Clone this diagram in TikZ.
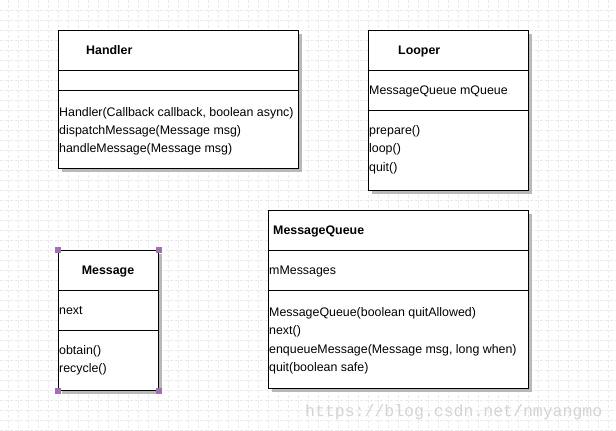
\documentclass[tikz,border=0pt]{standalone}
\usepackage{fontspec}
\setmainfont{Liberation Sans}
\newfontfamily\wmfont{Liberation Mono}
\usetikzlibrary{shadows}
\definecolor{gridc}{RGB}{234,234,234}
\definecolor{shadc}{RGB}{185,185,185}
\definecolor{handc}{RGB}{160,112,176}
\definecolor{wmc}{RGB}{212,212,212}
\begin{document}
\begin{tikzpicture}[x=1pt,y=-1pt,
  font=\fontsize{12.4}{15}\selectfont,
  gridline/.style={draw=gridc,line width=0.8pt,dash pattern=on 3pt off 2pt},
  classbox/.style={draw=black,line width=1pt,fill=white,anchor=north west,inner sep=0pt,
     drop shadow={shadow xshift=3pt,shadow yshift=-3pt,fill=shadc,opacity=1}},
  divider/.style={draw=black,line width=1pt},
  txt/.style={anchor=base west,inner sep=0pt},
  ttl/.style={anchor=base west,inner sep=0pt,font=\fontsize{12.4}{15}\selectfont\bfseries},
  handle/.style={fill=handc,draw=none,minimum size=6pt,inner sep=0pt}]
\useasboundingbox (0,0) rectangle (616,431);
\fill[white] (0,0) rectangle (616,431);
\foreach \x in {8,18,...,608} \draw[gridline] (\x,0) -- (\x,431);
\foreach \y in {10,20,...,430} \draw[gridline] (0,\y) -- (616,\y);

% Handler
\node[classbox,minimum width=240pt,minimum height=138pt] (handler) at (58,30) {};
\draw[divider] ([yshift=-40pt]handler.north west) -- ([yshift=-40pt]handler.north east);
\draw[divider] ([yshift=-60pt]handler.north west) -- ([yshift=-60pt]handler.north east);
\node[ttl] (handlerT) at (86,54) {Handler};
\node[txt] (h1) at (59,116) {Handler(Callback callback, boolean async)};
\node[txt] (h2) at (59,134) {dispatchMessage(Message msg)};
\node[txt] (h3) at (59,152) {handleMessage(Message msg)};

% Looper
\node[classbox,minimum width=160pt,minimum height=160pt] (looper) at (368,30) {};
\draw[divider] ([yshift=-40pt]looper.north west) -- ([yshift=-40pt]looper.north east);
\draw[divider] ([yshift=-80pt]looper.north west) -- ([yshift=-80pt]looper.north east);
\node[ttl] (looperT) at (398,54) {Looper};
\node[txt] (l0) at (369,94) {MessageQueue mQueue};
\node[txt] (l1) at (369,134) {prepare()};
\node[txt] (l2) at (369,152) {loop()};
\node[txt] (l3) at (369,171) {quit()};

% Message
\node[classbox,minimum width=100pt,minimum height=140pt] (message) at (58,250) {};
\draw[divider] ([yshift=-40pt]message.north west) -- ([yshift=-40pt]message.north east);
\draw[divider] ([yshift=-80pt]message.north west) -- ([yshift=-80pt]message.north east);
\node[ttl,anchor=base] (messageT) at (108,274) {Message};
\node[txt] (m0) at (59,314) {next};
\node[txt] (m1) at (59,354) {obtain()};
\node[txt] (m2) at (59,372) {recycle()};
\node[handle] (hnw) at (message.north west) {};
\node[handle] (hne) at (message.north east) {};
\node[handle] (hsw) at (message.south west) {};
\node[handle] (hse) at (message.south east) {};

% MessageQueue
\node[classbox,minimum width=260pt,minimum height=178pt] (mq) at (268,210) {};
\draw[divider] ([yshift=-40pt]mq.north west) -- ([yshift=-40pt]mq.north east);
\draw[divider] ([yshift=-80pt]mq.north west) -- ([yshift=-80pt]mq.north east);
\node[ttl] (mqT) at (273,234) {MessageQueue};
\node[txt] (q0) at (269,274) {mMessages};
\node[txt] (q1) at (269,316) {MessageQueue(boolean quitAllowed)};
\node[txt] (q2) at (269,334) {next()};
\node[txt] (q3) at (269,353) {enqueueMessage(Message msg, long when)};
\node[txt] (q4) at (269,371) {quit(boolean safe)};

% watermark
\node[txt,text=wmc,font=\wmfont\fontsize{16.5}{18}\selectfont] (wm) at (305,416) {https://blog.csdn.net/nmyangmo};
\end{tikzpicture}
\end{document}
